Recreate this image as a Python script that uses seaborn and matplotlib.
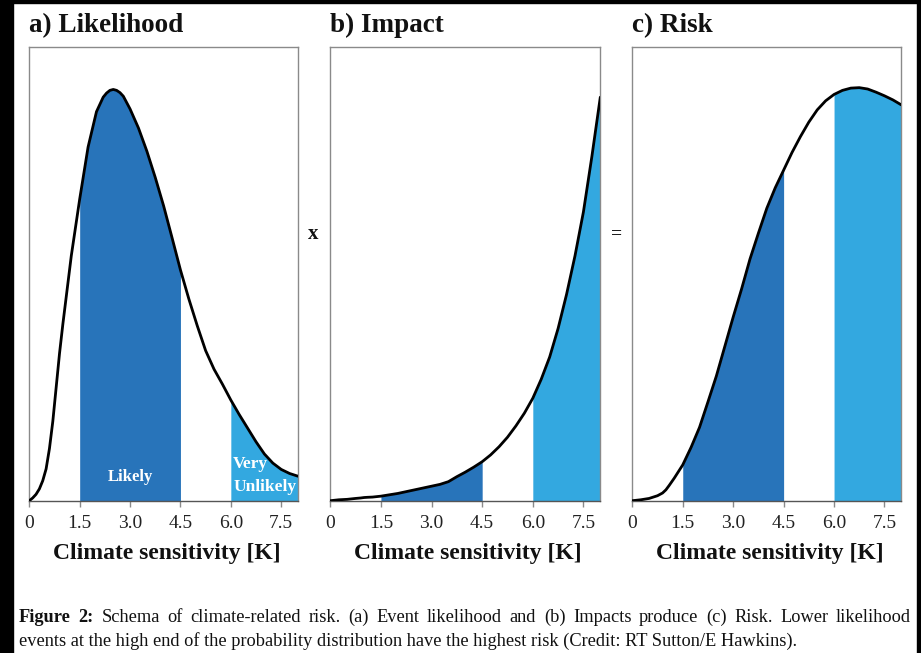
import numpy as np
import matplotlib
matplotlib.use('Agg')
import matplotlib.pyplot as plt
from matplotlib.patches import Rectangle
import seaborn as sns

# Climate sensitivity [K] and curves (fraction of panel height)
likelihood_x = [0, 0.1, 0.2, 0.3, 0.4, 0.5, 0.6, 0.7, 0.8, 0.9, 1.0, 1.1, 1.25, 1.5,
                1.75, 2.0, 2.2, 2.3, 2.4, 2.5, 2.6, 2.7, 2.8, 3.0, 3.25, 3.5, 3.75, 4.0,
                4.25, 4.5, 4.75, 5.0, 5.25, 5.5, 5.75, 6.0, 6.25, 6.5, 6.75, 7.0, 7.25,
                7.5, 7.75, 8.0]
likelihood = [0.0, 0.006, 0.014, 0.026, 0.044, 0.07, 0.115, 0.175, 0.25, 0.325, 0.39,
              0.45, 0.54, 0.665, 0.78, 0.858, 0.89, 0.899, 0.905, 0.907, 0.905, 0.9,
              0.892, 0.864, 0.822, 0.771, 0.713, 0.65, 0.58, 0.509, 0.445, 0.386,
              0.331, 0.29, 0.257, 0.222, 0.19, 0.16, 0.13, 0.103, 0.083, 0.069, 0.06,
              0.054]

grid_x = [0, 0.25, 0.5, 0.75, 0.9, 1.0, 1.1, 1.25, 1.5, 1.75, 2.0, 2.25, 2.5, 2.75,
          3.0, 3.25, 3.5, 3.75, 4.0, 4.25, 4.5, 4.75, 5.0, 5.25, 5.5, 5.75, 6.0,
          6.25, 6.5, 6.75, 7.0, 7.25, 7.5, 7.75, 8.0]
impact = [0.0, 0.002, 0.003, 0.005, 0.006, 0.007, 0.0075, 0.008, 0.010, 0.013, 0.016,
          0.020, 0.024, 0.028, 0.032, 0.036, 0.042, 0.053, 0.063, 0.074, 0.086, 0.101,
          0.119, 0.14, 0.165, 0.193, 0.226, 0.268, 0.317, 0.38, 0.455, 0.54, 0.637,
          0.759, 0.89]
risk = [0.0, 0.002, 0.005, 0.011, 0.017, 0.024, 0.034, 0.05, 0.079, 0.118, 0.162,
        0.218, 0.275, 0.34, 0.405, 0.467, 0.533, 0.59, 0.645, 0.69, 0.729, 0.768,
        0.803, 0.835, 0.862, 0.882, 0.896, 0.905, 0.91, 0.911, 0.908, 0.901, 0.893,
        0.884, 0.873]

titles = ['a) Likelihood', 'b) Impact', 'c) Risk']
tick_values = [0, 1.5, 3.0, 4.5, 6.0, 7.5]
tick_labels = ['0', '1.5', '3.0', '4.5', '6.0', '7.5']
likely_range = (1.5, 4.5)
very_unlikely_range = (6.0, 8.0)
caption_bold = 'Figure 2:'
caption_line1 = ('Schema of climate-related risk. (a) Event likelihood and (b) Impacts '
                 'produce (c) Risk. Lower likelihood')
caption_line2 = ('events at the high end of the probability distribution have the highest '
                 'risk (Credit: RT Sutton/E Hawkins).')

DARK_BLUE = '#2874ba'
LIGHT_BLUE = '#33a8e0'
SPINE = '#8a8a8a'
INK = '#111111'

sns.set_style('white')
plt.rcParams['font.family'] = ['Liberation Serif', 'DejaVu Serif']

W, H = 921, 653
fig = plt.figure(figsize=(W / 100, H / 100), dpi=100)
fig.patch.set_facecolor('white')

# black border strips of the scanned page
for rect in [(0, 0, 13, H), (0, H - 3, W, 3), (917, 0, 4, H)]:
    fig.patches.append(Rectangle((rect[0] / W, rect[1] / H), rect[2] / W, rect[3] / H,
                                 transform=fig.transFigure, color='black', zorder=0))

lefts = [29.3, 330.3, 632.3]
widths = [268.7, 270.0, 269.0]
bottom_px, top_px = 500.7, 47.3
ax_h = bottom_px - top_px

panels = [(likelihood_x, likelihood), (grid_x, impact), (grid_x, risk)]

for i, (xs, ys) in enumerate(panels):
    ax = fig.add_axes([lefts[i] / W, (H - bottom_px) / H, widths[i] / W, ax_h / H])
    x = np.asarray(xs)
    y = np.asarray(ys)
    lk = (x >= likely_range[0]) & (x <= likely_range[1])
    vu = (x >= very_unlikely_range[0]) & (x <= very_unlikely_range[1])
    ax.fill_between(x, y, where=lk, color=DARK_BLUE, lw=0, zorder=1)
    ax.fill_between(x, y, where=vu, color=LIGHT_BLUE, lw=0, zorder=1)
    sns.lineplot(x=x, y=y, ax=ax, color='black', lw=2, zorder=3)
    ax.set_xlim(0, 8)
    ax.set_ylim(0, 1)
    ax.set_yticks([])
    ax.set_xticks(tick_values)
    ax.set_xticklabels(tick_labels)
    ax.tick_params(axis='x', direction='out', length=4, width=1, color=SPINE,
                   pad=6, labelsize=14, labelcolor='#222222', bottom=True)
    for side in ['top', 'left', 'right']:
        ax.spines[side].set_color(SPINE)
        ax.spines[side].set_linewidth(1)
    ax.spines['bottom'].set_color('#555555')
    ax.spines['bottom'].set_linewidth(1)
    ax.text(0, 1 + 15 / ax_h, titles[i], transform=ax.transAxes, ha='left',
            va='baseline', fontsize=19.5, fontweight='bold', color=INK)
    ax.text(0.5 + 3 / widths[i], -(559 - bottom_px) / ax_h, 'Climate sensitivity [K]',
            transform=ax.transAxes, ha='center', va='baseline', fontsize=17,
            fontweight='bold', color=INK)
    if i == 0:
        ax.text(3.0, 0.052, 'Likely', ha='center', va='center', color='white',
                fontsize=12, fontweight='bold', zorder=4)
        ax.text(6.07, 0.055, 'Very\nUnlikely', ha='left', va='center', color='white',
                fontsize=12.5, fontweight='bold', linespacing=1.55, zorder=4)

fig.text(313 / W, (H - 234) / H, 'x', ha='center', va='center', fontsize=15,
         fontweight='bold', color=INK)
fig.text(617 / W, (H - 234) / H, '=', ha='center', va='center', fontsize=14,
         fontweight='bold', color=INK)

# caption: first line justified between x=19 and x=911, second line ragged
cap_size = 13.2
renderer = fig.canvas.get_renderer()
words = [(w, 'bold') for w in caption_bold.split()] + \
        [(w, 'normal') for w in caption_line1.split()]
arts = [fig.text(0, (H - 622) / H, w, ha='left', va='baseline', fontsize=cap_size,
                 fontweight=wt, color=INK) for w, wt in words]
wpx = [a.get_window_extent(renderer).width for a in arts]
gap = (911 - 19 - sum(wpx)) / (len(arts) - 1)
xpos = 19
for a, w in zip(arts, wpx):
    a.set_x(xpos / W)
    xpos += w + gap
fig.text(19 / W, (H - 646) / H, caption_line2, ha='left', va='baseline',
         fontsize=cap_size, color=INK)

fig.savefig('out.png', dpi=100)
